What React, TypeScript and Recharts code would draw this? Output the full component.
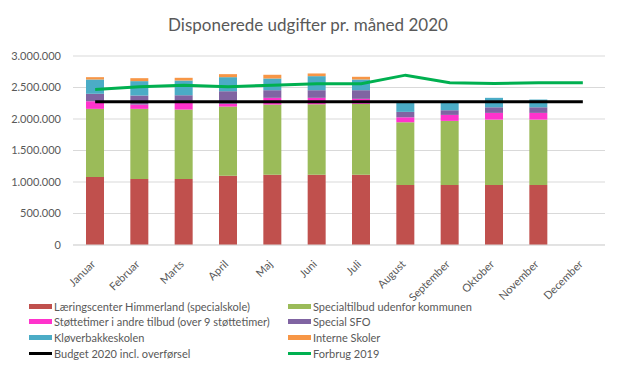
import React from 'react';
import { ComposedChart, Bar, Line, XAxis, YAxis, CartesianGrid, Legend } from 'recharts';

const MONTHS = ['Januar', 'Februar', 'Marts', 'April', 'Maj', 'Juni', 'Juli', 'August', 'September', 'Oktober', 'November', 'December'];

// Stacked expense series (kr.)
const LAERINGSCENTER = [1078000, 1046000, 1046000, 1099000, 1115000, 1115000, 1115000, 951000, 951000, 951000, 951000, null];
const SPECIALTILBUD = [1083000, 1115000, 1104000, 1098000, 1114000, 1119000, 1125000, 997000, 1019000, 1039000, 1039000, null];
const STOETTETIMER = [121000, 68000, 116000, 43000, 107000, 102000, 80000, 79000, 95000, 107000, 107000, null];
const SPECIAL_SFO = [118000, 144000, 111000, 201000, 121000, 121000, 137000, 86000, 74000, 89000, 89000, null];
const KLOEVERBAKKE = [227000, 228000, 234000, 223000, 186000, 223000, 170000, 149000, 123000, 150000, 123000, null];
const INTERNE = [37000, 47000, 43000, 48000, 59000, 43000, 43000, 0, 0, 0, 0, null];

// Lines
const BUDGET = [2272000, 2272000, 2272000, 2272000, 2272000, 2272000, 2272000, 2272000, 2272000, 2272000, 2272000, 2272000];
const FORBRUG_2019 = [2468000, 2511000, 2537000, 2511000, 2537000, 2559000, 2559000, 2696000, 2575000, 2564000, 2575000, 2575000];

const Y_TICKS = [0, 500000, 1000000, 1500000, 2000000, 2500000, 3000000];

const BARS = [
  { key: 'laering', name: 'Læringscenter Himmerland (specialskole)', color: '#C0504D' },
  { key: 'special', name: 'Specialtilbud udenfor kommunen', color: '#9BBB59' },
  { key: 'stoette', name: 'Støttetimer i andre tilbud (over 9 støttetimer)', color: '#FF33CC' },
  { key: 'sfo', name: 'Special SFO', color: '#8064A2' },
  { key: 'kloever', name: 'Kløverbakkeskolen', color: '#4BACC6' },
  { key: 'interne', name: 'Interne Skoler', color: '#F79646' },
];

const LINES = [
  { key: 'budget', name: 'Budget 2020 incl. overførsel', color: '#000000' },
  { key: 'forbrug', name: 'Forbrug 2019', color: '#00B050' },
];

const data = MONTHS.map((m, i) => ({
  month: m,
  laering: LAERINGSCENTER[i],
  special: SPECIALTILBUD[i],
  stoette: STOETTETIMER[i],
  sfo: SPECIAL_SFO[i],
  kloever: KLOEVERBAKKE[i],
  interne: INTERNE[i],
  budget: BUDGET[i],
  forbrug: FORBRUG_2019[i],
}));

const FONT = 'Lato, "Open Sans", sans-serif';
const GREY = '#595959';

const fmt = (v: number) => String(v).replace(/\B(?=(\d{3})+(?!\d))/g, '.');

const MonthTick = (props: any) => {
  const { x, y, payload } = props;
  return (
    <g transform={`translate(${x - 2},${y + 9})`}>
      <text textAnchor="end" transform="rotate(-45)" fill={GREY} fontSize={11} fontFamily={FONT} dy={4}>
        {payload.value}
      </text>
    </g>
  );
};

const legendItems = [
  BARS[0], BARS[1],
  BARS[2], BARS[3],
  BARS[4], BARS[5],
  { ...LINES[0], line: true }, { ...LINES[1], line: true },
] as any[];

const CustomLegend = () => (
  <div style={{ position: 'relative', width: 620, height: 64, fontFamily: FONT, fontSize: 11, color: GREY }}>
    {legendItems.map((it, i) => {
      const col = i % 2;
      const row = Math.floor(i / 2);
      return (
        <div
          key={it.key}
          style={{ position: 'absolute', left: col === 0 ? 29 : 288, top: row * 15.7, height: 16, display: 'flex', alignItems: 'center', whiteSpace: 'nowrap' }}
        >
          <span style={{ display: 'inline-block', width: 23, height: it.line ? 3 : 5, background: it.color, marginRight: 2 }} />
          <span>{it.name}</span>
        </div>
      );
    })}
  </div>
);

export default function App() {
  return (
    <div style={{ position: 'absolute', left: 0, top: 0, width: 620, height: 365, background: '#fff' }}>
      <div style={{ position: 'absolute', left: 0, top: 14, width: 616, textAlign: 'center', fontFamily: FONT, fontSize: 17, color: GREY }}>
        Disponerede udgifter pr. måned 2020
      </div>
      <ComposedChart width={620} height={365} data={data} margin={{ top: 56, right: 15, left: 0, bottom: 0 }} barSize={18}>
        <CartesianGrid vertical={false} stroke="#D9D9D9" />
        <XAxis dataKey="month" height={120} tickLine={false} axisLine={{ stroke: '#D9D9D9' }} interval={0} tick={<MonthTick />} />
        <YAxis
          width={73}
          domain={[0, 3000000]}
          ticks={Y_TICKS}
          axisLine={false}
          tickLine={false}
          tickFormatter={fmt}
          tickMargin={6}
          tick={{ fill: GREY, fontSize: 11, fontFamily: FONT }}
        />
        {BARS.map((b) => (
          <Bar key={b.key} dataKey={b.key} name={b.name} stackId="a" fill={b.color} isAnimationActive={false} />
        ))}
        {LINES.map((l) => (
          <Line key={l.key} dataKey={l.key} name={l.name} type="linear" stroke={l.color} strokeWidth={3} dot={false} isAnimationActive={false} />
        ))}
        <Legend
          layout="vertical"
          verticalAlign="middle"
          align="center"
          content={<CustomLegend />}
          wrapperStyle={{ top: 298, left: 0, width: 620 }}
        />
      </ComposedChart>
    </div>
  );
}
